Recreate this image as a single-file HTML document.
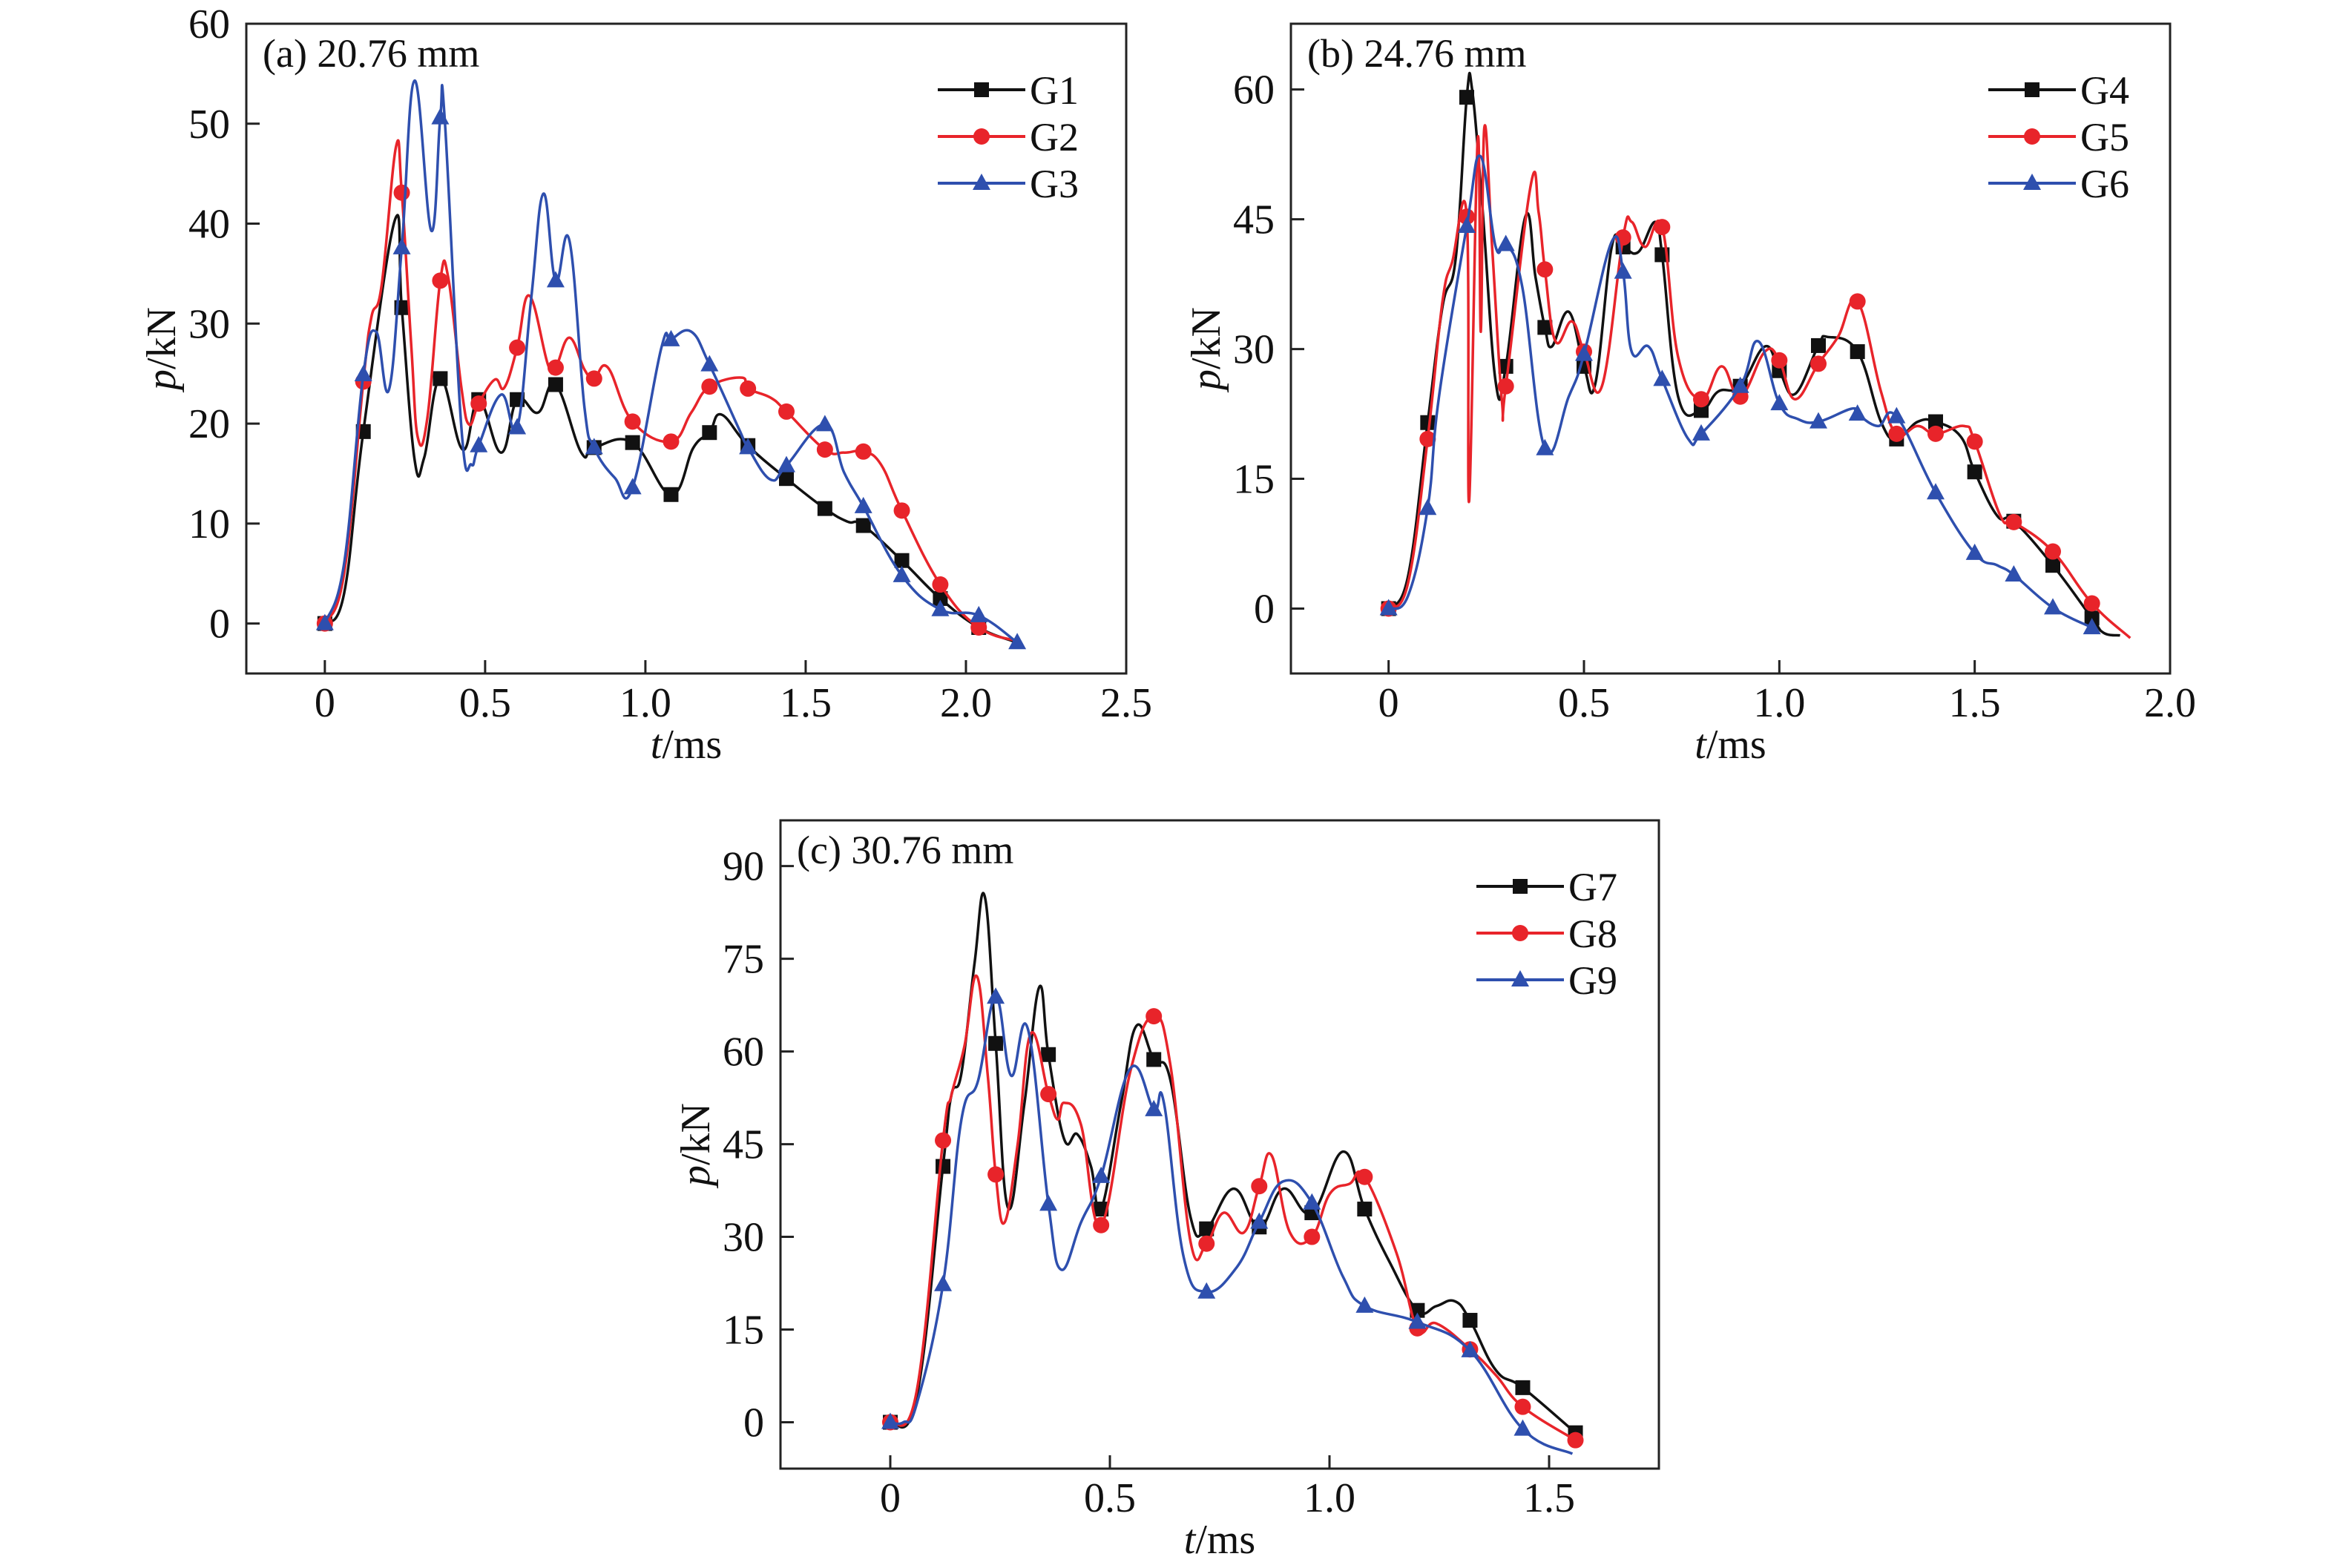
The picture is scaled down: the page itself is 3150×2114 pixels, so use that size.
<!DOCTYPE html>
<html><head><meta charset="utf-8"><style>
html,body{margin:0;padding:0;background:#fff}
svg{display:block}
text{font-family:"Liberation Serif",serif;fill:#111}
</style></head><body>
<svg id="fig" width="3150" height="2114" viewBox="0 0 3150 2114" xmlns="http://www.w3.org/2000/svg"></svg>
<script>
// ---------- Panel (a) data ----------
const g1 = [[0,0],[0.06,3],[0.12,19.2],[0.218,40.3],[0.24,31.6],[0.28,16.4],[0.31,16.6],[0.36,24.5],[0.43,17.4],[0.48,22.4],[0.55,17.1],[0.60,22.4],[0.665,21.1],[0.72,23.9],[0.80,17.1],[0.84,17.6],[0.96,18.1],[1.08,12.9],[1.15,17.6],[1.20,19.1],[1.237,20.9],[1.32,17.8],[1.44,14.5],[1.56,11.5],[1.63,10.2],[1.68,9.8],[1.80,6.3],[1.92,2.5],[2.04,-0.4],[2.15,-1.8]];
const g2 = [[0,0],[0.06,5],[0.12,24.2],[0.145,30.6],[0.177,33.8],[0.222,47.7],[0.24,43.1],[0.27,27.6],[0.29,18.6],[0.32,20.6],[0.36,34.3],[0.385,34.6],[0.426,23.6],[0.45,19.9],[0.48,22.0],[0.53,24.4],[0.56,23.6],[0.60,27.6],[0.638,32.8],[0.696,25.9],[0.72,25.6],[0.763,28.6],[0.81,25.4],[0.84,24.5],[0.883,25.6],[0.96,20.2],[1.08,18.2],[1.143,21.1],[1.20,23.7],[1.30,24.6],[1.32,23.5],[1.39,22.6],[1.44,21.2],[1.56,17.4],[1.62,17.1],[1.68,17.2],[1.735,15.9],[1.80,11.3],[1.92,3.9],[2.04,-0.4],[2.17,-1.8]];
const g3 = [[0,0],[0.06,6],[0.12,24.9],[0.16,29.2],[0.20,23.4],[0.24,37.6],[0.28,54.3],[0.332,39.3],[0.36,50.6],[0.374,50.5],[0.426,19.6],[0.457,15.9],[0.48,17.8],[0.55,22.9],[0.60,19.6],[0.644,32.6],[0.682,43.0],[0.72,34.3],[0.763,38.3],[0.81,21.6],[0.84,17.6],[0.904,14.6],[0.96,13.6],[1.05,27.6],[1.08,28.4],[1.143,29.2],[1.20,25.9],[1.29,19.6],[1.32,17.6],[1.39,14.4],[1.44,15.8],[1.56,19.9],[1.62,15.1],[1.68,11.7],[1.80,4.8],[1.92,1.4],[2.04,0.8],[2.16,-1.9]];
const marksA = [0,0.12,0.24,0.36,0.48,0.60,0.72,0.84,0.96,1.08,1.20,1.32,1.44,1.56,1.68,1.80,1.92,2.04,2.16];
const xTicksA = ["0","0.5","1.0","1.5","2.0","2.5"];
const yTicksA = ["0","10","20","30","40","50","60"];

// ---------- Panel (b) data ----------
const g4 = [[0,0],[0.05,3.8],[0.1,21.5],[0.138,34.9],[0.172,40.6],[0.2,59.1],[0.214,59.9],[0.24,46.4],[0.274,26.2],[0.3,28.0],[0.35,45.3],[0.376,38.3],[0.4,32.5],[0.418,30.3],[0.461,34.3],[0.5,28.0],[0.529,26.0],[0.571,41.8],[0.6,41.8],[0.639,41.2],[0.682,44.7],[0.7,40.9],[0.741,24.5],[0.8,22.9],[0.844,25.1],[0.9,25.7],[0.963,30.3],[1.0,27.5],[1.04,24.8],[1.1,30.4],[1.124,31.4],[1.2,29.7],[1.26,21.6],[1.3,19.6],[1.354,21.6],[1.4,21.6],[1.464,19.9],[1.5,15.8],[1.558,10.7],[1.6,10.1],[1.7,5.0],[1.8,-1.1],[1.83,-2.8],[1.872,-3.1]];
const g5 = [[0,0],[0.05,3],[0.1,19.6],[0.138,35.5],[0.163,40.1],[0.2,45.3],[0.206,12.4],[0.228,54.2],[0.236,32],[0.245,55.6],[0.265,41.8],[0.29,24],[0.3,25.7],[0.364,49.0],[0.384,45.8],[0.4,39.2],[0.427,30.9],[0.469,33.2],[0.5,29.7],[0.546,25.7],[0.6,42.9],[0.622,44.7],[0.656,41.8],[0.7,44.1],[0.741,29.1],[0.8,24.2],[0.852,28.0],[0.9,24.5],[0.963,29.7],[1.0,28.7],[1.04,24.2],[1.1,28.3],[1.15,31.4],[1.2,35.5],[1.26,25.1],[1.3,20.2],[1.354,21.1],[1.4,20.2],[1.473,21.1],[1.5,19.3],[1.566,10.7],[1.6,10.0],[1.7,6.6],[1.8,0.6],[1.898,-3.4]];
const g6 = [[0,0],[0.05,1.5],[0.1,11.6],[0.129,24.5],[0.2,44.2],[0.235,52.3],[0.274,41.8],[0.3,42.1],[0.342,37.2],[0.4,18.5],[0.461,24.5],[0.5,29.4],[0.571,42.4],[0.6,38.9],[0.622,29.7],[0.665,30.3],[0.7,26.5],[0.767,19.6],[0.8,20.2],[0.9,25.7],[0.946,30.9],[1.0,23.7],[1.048,21.9],[1.1,21.6],[1.184,23.1],[1.2,22.5],[1.252,21.1],[1.3,22.2],[1.4,13.4],[1.5,6.4],[1.558,5.0],[1.6,3.9],[1.7,0.1],[1.8,-2.2]];
const marksB = [0,0.1,0.2,0.3,0.4,0.5,0.6,0.7,0.8,0.9,1.0,1.1,1.2,1.3,1.4,1.5,1.6,1.7,1.8];
const xTicksB = ["0","0.5","1.0","1.5","2.0"];
const yTicksB = ["0","15","30","45","60"];

// ---------- Panel (c) data ----------
const g7 = [[0,0],[0.06,4],[0.12,41.4],[0.139,52.9],[0.162,56.5],[0.192,74.4],[0.215,85.1],[0.24,61.3],[0.268,34.7],[0.305,51.4],[0.339,70.4],[0.36,59.5],[0.396,45.8],[0.426,46.6],[0.457,41.4],[0.48,34.5],[0.525,51.4],[0.56,64.1],[0.60,58.7],[0.638,55.3],[0.684,33.1],[0.72,31.3],[0.782,37.8],[0.84,31.6],[0.895,37.8],[0.96,33.9],[1.031,43.8],[1.08,34.5],[1.137,25.9],[1.20,18.1],[1.243,18.8],[1.285,19.6],[1.32,16.5],[1.379,8.4],[1.44,5.6],[1.56,-1.7]];
const g8 = [[0,0],[0.06,5],[0.12,45.6],[0.139,52.9],[0.169,60.9],[0.197,72.2],[0.222,56.1],[0.24,40.1],[0.26,32.3],[0.29,45.0],[0.32,62.9],[0.36,53.1],[0.381,49.0],[0.396,51.7],[0.434,48.2],[0.48,31.9],[0.547,56.9],[0.60,65.7],[0.638,57.7],[0.684,29.1],[0.72,28.9],[0.759,33.9],[0.805,30.7],[0.84,38.2],[0.868,43.2],[0.91,30.7],[0.96,30.0],[1.001,37.0],[1.046,38.6],[1.08,39.7],[1.152,27.5],[1.20,15.2],[1.243,16.0],[1.32,11.8],[1.379,7.6],[1.44,2.5],[1.56,-2.9]];
const g9 = [[0,0],[0.03,0],[0.06,2.9],[0.12,22.3],[0.162,49],[0.2,55.3],[0.24,68.8],[0.275,56.1],[0.313,63.7],[0.36,35.3],[0.389,24.7],[0.434,32.3],[0.48,39.8],[0.547,57.3],[0.60,50.6],[0.623,51.7],[0.668,26.7],[0.72,21.1],[0.789,25.1],[0.84,32.4],[0.895,39.0],[0.96,35.5],[1.031,23.5],[1.08,18.8],[1.20,16.2],[1.32,11.6],[1.44,-1.1],[1.553,-5.1]];
const marksC = [0,0.12,0.24,0.36,0.48,0.60,0.72,0.84,0.96,1.08,1.20,1.32,1.44,1.56];
const xTicksC = ["0","0.5","1.0","1.5"];
const yTicksC = ["0","15","30","45","60","75","90"];

const NS = "http://www.w3.org/2000/svg";
const svg = document.getElementById('fig');
function mk(tag, attrs, parent){ const e=document.createElementNS(NS,tag); for(const k in attrs) e.setAttribute(k,attrs[k]); (parent||svg).appendChild(e); return e; }

function smoothPath(pts){
  let d = "M"+pts[0][0].toFixed(1)+","+pts[0][1].toFixed(1);
  for(let i=0;i<pts.length-1;i++){
    const p0=pts[Math.max(0,i-1)], p1=pts[i], p2=pts[i+1], p3=pts[Math.min(pts.length-1,i+2)];
    const t=0.2;
    const c1x=p1[0]+(p2[0]-p0[0])*t, c1y=p1[1]+(p2[1]-p0[1])*t;
    const c2x=p2[0]-(p3[0]-p1[0])*t, c2y=p2[1]-(p3[1]-p1[1])*t;
    d+=" C"+c1x.toFixed(1)+","+c1y.toFixed(1)+" "+c2x.toFixed(1)+","+c2y.toFixed(1)+" "+p2[0].toFixed(1)+","+p2[1].toFixed(1);
  }
  return d;
}

function marker(g, shape, x, y, color){
  let m;
  if(shape==='square') m = mk('rect',{x:x-10,y:y-10,width:20,height:20,fill:color},g);
  else if(shape==='circle') m = mk('circle',{cx:x,cy:y,r:11,fill:color},g);
  else m = mk('polygon',{points:(x)+","+(y-13)+" "+(x-12)+","+(y+9)+" "+(x+12)+","+(y+9),fill:color},g);
  return m;
}

function panel(cfg){
  const g = mk('g',{});
  
  
  const sx = v => cfg.L + (v - cfg.xmin)/(cfg.xmax-cfg.xmin)*(cfg.R-cfg.L);
  const sy = v => cfg.B - (v - cfg.ymin)/(cfg.ymax-cfg.ymin)*(cfg.B-cfg.T);
  const frame = mk('rect',{x:cfg.L,y:cfg.T,width:cfg.R-cfg.L,height:cfg.B-cfg.T,fill:'none',stroke:'#222','stroke-width':3},g);
  
  
  cfg.xt.forEach(s=>{
    const v=parseFloat(s), x=sx(v);
    const tk = mk('line',{x1:x,x2:x,y1:cfg.B,y2:cfg.B-18,stroke:'#222','stroke-width':3},g);
    
    
    const t = mk('text',{x:x,y:cfg.B+58,'font-size':56,'text-anchor':'middle'},g);
    t.textContent=s;
    
    
  });
  cfg.yt.forEach(s=>{
    const v=parseFloat(s), y=sy(v);
    const tk = mk('line',{x1:cfg.L,x2:cfg.L+18,y1:y,y2:y,stroke:'#222','stroke-width':3},g);
    
    
    const t = mk('text',{x:cfg.L-22,y:y+19,'font-size':56,'text-anchor':'end'},g);
    t.textContent=s;
    
    
  });
  const xt = mk('text',{x:(cfg.L+cfg.R)/2,y:cfg.B+114,'font-size':56,'text-anchor':'middle'},g);
  xt.innerHTML='<tspan font-style="italic">t</tspan>/ms';
  
  
  const yx = cfg.L-96, yy=(cfg.T+cfg.B)/2;
  const yt = mk('text',{x:yx,y:yy,'font-size':56,'text-anchor':'middle',transform:'rotate(-90 '+yx+' '+yy+')'},g);
  yt.innerHTML='<tspan font-style="italic">p</tspan>/kN';
  
  
  const lab = mk('text',{x:cfg.L+22,y:cfg.T+58,'font-size':54},g);
  lab.textContent=cfg.label;
  
  

  const clipId = 'clip-'+cfg.name;
  const cp = mk('clipPath',{id:clipId},g);
  mk('rect',{x:cfg.L,y:cfg.T,width:cfg.R-cfg.L,height:cfg.B-cfg.T},cp);

  cfg.series.forEach((s,si)=>{
    const sg = mk('g',{'clip-path':'url(#'+clipId+')'},g);
    
    
    const pts = s.data.map(p=>[sx(p[0]),sy(p[1])]);
    const path = mk('path',{d:smoothPath(pts),fill:'none',stroke:s.color,'stroke-width':3.5,'stroke-linejoin':'round'},sg);
    
    
    cfg.marks.forEach(mt=>{
      const p = s.data.find(q=>Math.abs(q[0]-mt)<0.004);
      if(!p) return;
      const m = marker(sg, s.shape, sx(p[0]), sy(p[1]), s.color);
      
      
    });
    const ly = cfg.T + 89 + si*63;
    const lg = mk('g',{},g);
    
    
    mk('line',{x1:cfg.legX,x2:cfg.legX+118,y1:ly,y2:ly,stroke:s.color,'stroke-width':4},lg);
    marker(lg, s.shape, cfg.legX+59, ly, s.color);
    const lt = mk('text',{x:cfg.legX+124,y:ly+19,'font-size':54},lg);
    lt.textContent=s.key;
  });
}

panel({name:'panel-a',label:'(a) 20.76 mm',L:332,R:1518,T:32,B:908,xmin:-0.245,xmax:2.5,ymin:-5,ymax:60,
  xt:xTicksA,yt:yTicksA,marks:marksA,legX:1264,
  series:[{key:'G1',data:g1,color:'#111',shape:'square'},{key:'G2',data:g2,color:'#e8242a',shape:'circle'},{key:'G3',data:g3,color:'#2e4fae',shape:'triangle'}]});
panel({name:'panel-b',label:'(b) 24.76 mm',L:1740,R:2925,T:32,B:908,xmin:-0.25,xmax:2.0,ymin:-7.5,ymax:67.6,
  xt:xTicksB,yt:yTicksB,marks:marksB,legX:2680,
  series:[{key:'G4',data:g4,color:'#111',shape:'square'},{key:'G5',data:g5,color:'#e8242a',shape:'circle'},{key:'G6',data:g6,color:'#2e4fae',shape:'triangle'}]});
panel({name:'panel-c',label:'(c) 30.76 mm',L:1052,R:2236,T:1106,B:1980,xmin:-0.25,xmax:1.75,ymin:-7.5,ymax:97.4,
  xt:xTicksC,yt:yTicksC,marks:marksC,legX:1990,
  series:[{key:'G7',data:g7,color:'#111',shape:'square'},{key:'G8',data:g8,color:'#e8242a',shape:'circle'},{key:'G9',data:g9,color:'#2e4fae',shape:'triangle'}]});
</script>
</body></html>
